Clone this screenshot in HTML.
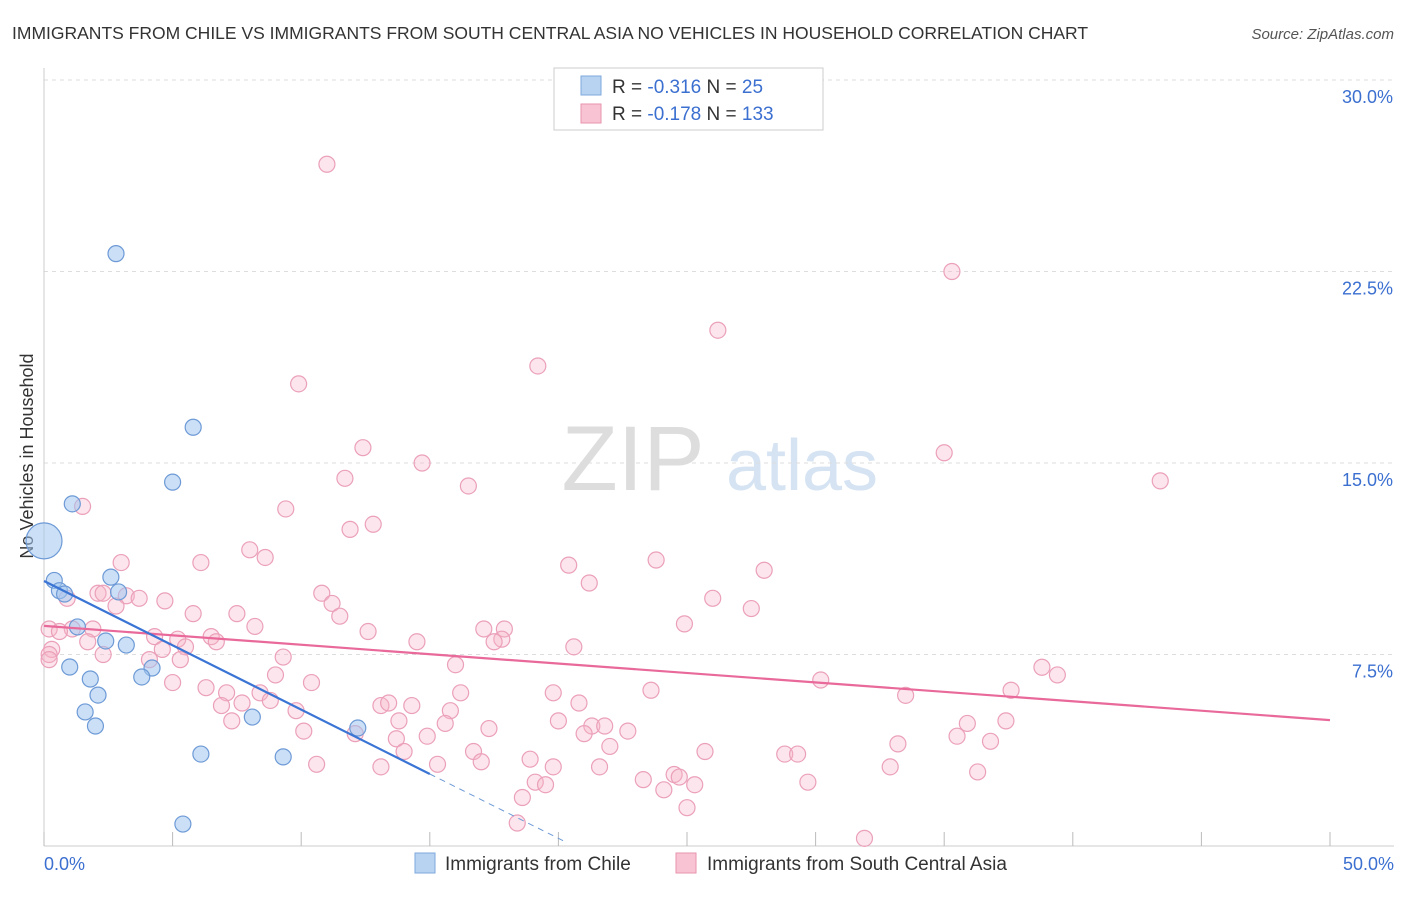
<!DOCTYPE html>
<html><head><meta charset="utf-8">
<style>
body{margin:0;background:#fff;font-family:"Liberation Sans",sans-serif;}
svg text{font-family:"Liberation Sans",sans-serif;}
</style></head>
<body>
<svg id="chart" width="1406" height="892" viewBox="0 0 1406 892" xmlns="http://www.w3.org/2000/svg">
<text x="12" y="39" font-size="17.5" fill="#333">IMMIGRANTS FROM CHILE VS IMMIGRANTS FROM SOUTH CENTRAL ASIA NO VEHICLES IN HOUSEHOLD CORRELATION CHART</text>
<text x="1394" y="39" font-size="15" fill="#555" text-anchor="end" font-style="italic">Source: ZipAtlas.com</text>
<text transform="translate(33,456) rotate(-90)" font-size="18" fill="#333" text-anchor="middle">No Vehicles in Household</text>
<g>
<text x="633" y="490" font-size="92" fill="#ddd" text-anchor="middle" font-family="Liberation Serif, serif">ZIP</text>
<text x="802" y="490" font-size="72" fill="#d5e3f3" text-anchor="middle">atlas</text>
</g>
<g id="grid"></g>
<g id="axes"></g>
<g id="marks"></g>
<g>
<rect x="554" y="68" width="269" height="62" fill="#fff" stroke="#ccc"/>
<rect x="581" y="76" width="20" height="19" fill="#b8d3f2" stroke="#7ea8dc"/>
<rect x="581" y="104" width="20" height="19" fill="#f8c4d4" stroke="#e893ad"/>
<text x="612" y="93" font-size="19" fill="#333">R = <tspan fill="#3b6fd0">-0.316</tspan>   N =  <tspan fill="#3b6fd0"> 25</tspan></text>
<text x="612" y="120" font-size="19" fill="#333">R = <tspan fill="#3b6fd0">-0.178</tspan>   N = <tspan fill="#3b6fd0">133</tspan></text>
</g>
<g>
<rect x="415" y="853" width="20" height="20" fill="#b8d3f2" stroke="#7ea8dc"/>
<text x="445" y="870" font-size="19" fill="#333">Immigrants from Chile</text>
<rect x="676" y="853" width="20" height="20" fill="#f8c4d4" stroke="#e893ad"/>
<text x="707" y="870" font-size="19" fill="#333">Immigrants from South Central Asia</text>
</g>
</svg>
<script>
const yTicks=[7.5,15,22.5,30];
const yTickLabels=["7.5%","15.0%","22.5%","30.0%"];
const xTicks=[0,5,10,15,20,25,30,35,40,45,50];
const chileX=[2.8,5.8,5.0,1.1,0,0.4,0.6,0.8,2.6,2.9,1.3,2.4,3.2,1.0,1.8,4.2,3.8,2.1,1.6,2.0,8.1,12.2,6.1,9.3,5.4];
const chileY=[23.2,16.4,14.25,13.4,11.95,10.4,10.0,9.87,10.53,9.95,8.58,8.03,7.87,7.01,6.54,6.97,6.62,5.91,5.25,4.7,5.05,4.62,3.6,3.49,0.86];
const chileR=[8,8,8,8,18,8,8,8,8,8,8,8,8,8,8,8,8,8,8,8,8,8,8,8,8];
const asiaX=[11.0,35.3,26.2,19.2,9.9,12.4,14.7,35.0,43.4,11.7,16.5,1.5,9.4,12.8,11.9,8.0,8.6,3.0,6.1,20.4,23.8,28.0,21.2,10.8,2.1,3.2,3.7,0.9,4.7,2.8,11.2,26.0,27.5,5.8,7.5,11.5,8.2,1.1,0.2,0.6,1.9,17.1,17.9,24.9,12.6,4.3,5.2,6.5,17.8,17.5,1.7,6.7,14.5,20.6,0.3,4.6,5.5,0.2,2.3,0.2,5.3,9.3,4.1,16.0,38.8,39.4,9.0,10.4,30.2,5.0,6.3,23.6,37.6,16.2,19.8,33.5,7.1,8.4,20.8,7.7,8.8,6.9,9.8,13.1,13.4,14.3,15.8,7.3,13.8,15.6,17.3,20.0,21.3,21.8,22.7,35.9,37.4,10.1,12.1,21.0,13.7,14.9,35.5,22.0,33.2,36.8,16.7,14.0,25.7,28.8,29.3,18.9,17.0,10.6,13.1,15.3,21.6,32.9,36.3,19.8,24.5,24.7,23.3,19.1,19.5,25.3,29.7,24.1,18.6,25.0,18.4,31.9,2.3];
const asiaY=[26.7,22.5,20.2,18.8,18.1,15.6,15.0,15.4,14.3,14.4,14.1,13.3,13.2,12.6,12.4,11.6,11.3,11.1,11.1,11.0,11.2,10.8,10.3,9.9,9.9,9.8,9.7,9.7,9.6,9.4,9.5,9.7,9.3,9.1,9.1,9.0,8.6,8.5,8.5,8.4,8.5,8.5,8.5,8.7,8.4,8.2,8.1,8.2,8.1,8.0,8.0,8.0,8.0,7.8,7.7,7.7,7.8,7.5,7.5,7.3,7.3,7.4,7.3,7.1,7.0,6.7,6.7,6.4,6.5,6.4,6.2,6.1,6.1,6.0,6.0,5.9,6.0,6.0,5.6,5.6,5.7,5.5,5.3,5.5,5.6,5.5,5.3,4.9,4.9,4.8,4.6,4.9,4.7,4.7,4.5,4.8,4.9,4.5,4.4,4.4,4.2,4.3,4.3,3.9,4.0,4.1,3.7,3.7,3.7,3.6,3.6,3.4,3.3,3.2,3.1,3.2,3.1,3.1,2.9,3.1,2.8,2.7,2.6,2.5,2.4,2.4,2.5,2.2,1.9,1.5,0.9,0.3,9.9];
const chileTrend=[[0,10.38],[15,2.82]];
const chileTrendDash=[[15,2.82],[20.26,0.17]];
const asiaTrend=[[0,8.62],[50,4.93]];

const NS="http://www.w3.org/2000/svg";
const X=v=>44+v*(1330-44)/50;
const Y=v=>846-v*(846-80)/30;
function mk(tag,attrs,parent){const e=document.createElementNS(NS,tag);for(const k in attrs)e.setAttribute(k,attrs[k]);parent.appendChild(e);return e;}
const grid=document.getElementById('grid'),axes=document.getElementById('axes'),marks=document.getElementById('marks');
yTicks.forEach((t,i)=>{
 const l=mk('line',{x1:44,x2:1394,y1:Y(t),y2:Y(t),stroke:'#ddd','stroke-dasharray':'4,4'},grid);
 
 
 const tx=mk('text',{x:1393,y:Y(t)+23,'font-size':18,fill:'#3b6fd0','text-anchor':'end'},axes);
 tx.textContent=yTickLabels[i];
 
 
});
const ya=mk('line',{x1:44,x2:44,y1:68,y2:846,stroke:'#ccc'},axes);


const xa=mk('line',{x1:44,x2:1394,y1:846,y2:846,stroke:'#ccc'},axes);


xTicks.forEach(t=>{
 const l=mk('line',{x1:X(t),x2:X(t),y1:832,y2:846,stroke:'#bbb'},axes);
 
 
});
const x0=mk('text',{x:44,y:870,'font-size':18,fill:'#3b6fd0'},axes);x0.textContent='0.0%';


const x1=mk('text',{x:1394,y:870,'font-size':18,fill:'#3b6fd0','text-anchor':'end'},axes);x1.textContent='50.0%';



asiaX.forEach((v,i)=>{
 const c=mk('circle',{cx:X(v),cy:Y(asiaY[i]),r:8,fill:'rgba(246,180,200,0.35)',stroke:'#eba0b9','stroke-width':1.2},marks);
 
 
});
chileX.forEach((v,i)=>{
 const c=mk('circle',{cx:X(v),cy:Y(chileY[i]),r:chileR[i],fill:'rgba(160,196,238,0.55)',stroke:'#6d9ad6','stroke-width':1.2},marks);
 
 
});
const t1=mk('line',{x1:X(asiaTrend[0][0]),y1:Y(asiaTrend[0][1]),x2:X(asiaTrend[1][0]),y2:Y(asiaTrend[1][1]),stroke:'#e8699a','stroke-width':2.2},marks);


const t2=mk('line',{x1:X(chileTrend[0][0]),y1:Y(chileTrend[0][1]),x2:X(chileTrend[1][0]),y2:Y(chileTrend[1][1]),stroke:'#3a74d4','stroke-width':2.2},marks);


const t3=mk('line',{x1:X(chileTrendDash[0][0]),y1:Y(chileTrendDash[0][1]),x2:X(chileTrendDash[1][0]),y2:Y(chileTrendDash[1][1]),stroke:'#6d9ad6','stroke-width':1,'stroke-dasharray':'6,5'},marks);


</script>
</body></html>
